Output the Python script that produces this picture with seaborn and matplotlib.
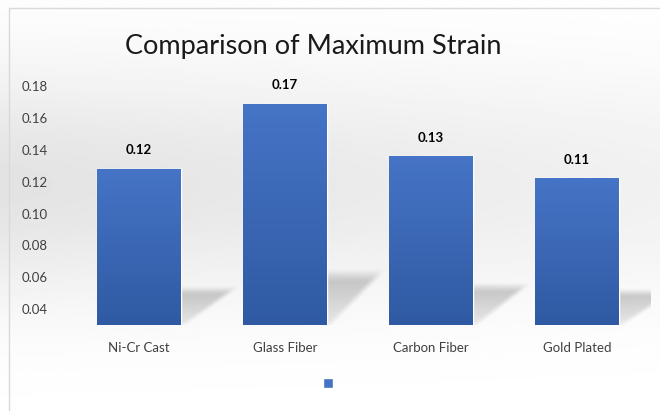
import numpy as np
import pandas as pd
import matplotlib
matplotlib.use("Agg")
import matplotlib.pyplot as plt
import seaborn as sns
from matplotlib.patches import Patch, Rectangle
from matplotlib.colors import LinearSegmentedColormap

# data
materials = ["Ni-Cr Cast", "Glass Fiber", "Carbon Fiber", "Gold Plated"]
max_strain = [0.128, 0.169, 0.136, 0.122]
value_labels = ["0.12", "0.17", "0.13", "0.11"]
y_ticks = [0.04, 0.06, 0.08, 0.10, 0.12, 0.14, 0.16, 0.18]

df = pd.DataFrame({"material": materials, "strain": max_strain})

sns.set_style("white")
plt.rcParams["font.family"] = ["Lato", "DejaVu Sans"]

fig = plt.figure(figsize=(6.6, 4.11), dpi=100)

# soft gray background like the office chart
bg = fig.add_axes([0, 0, 1, 1], zorder=-10)
yy, xx = np.mgrid[0:1:200j, 0:1:300j]
shade = 0.11 * np.exp(-((yy - 0.45) / 0.28) ** 2) * (1 - 0.5 * xx)
bg.imshow(1 - shade, cmap="gray", vmin=0, vmax=1, aspect="auto", extent=[0, 1, 0, 1])
bg.add_patch(Rectangle((0.013, -0.1), 1.2, 1.08, fill=False, edgecolor="#d9d9d9", lw=1.0))
bg.set_xlim(0, 1)
bg.set_ylim(0, 1)
bg.axis("off")

ax = fig.add_axes([0.10, 0.209, 0.885, 0.601])
ax.patch.set_alpha(0)
sns.barplot(data=df, x="material", y="strain", color="#4472C4", width=0.57, ax=ax,
            saturation=1, zorder=3)

ax.set_ylim(0.03, 0.185)
ax.set_yticks(y_ticks)
ax.set_yticklabels(["%.2f" % t for t in y_ticks])
ax.set_xlabel("")
ax.set_ylabel("")
for s in ax.spines.values():
    s.set_visible(False)
ax.tick_params(axis="y", length=0, pad=13, labelsize=9.5, labelcolor="#404040")
ax.tick_params(axis="x", length=0, pad=12, labelsize=9.5, labelcolor="#404040")


def smooth(z):
    z = np.clip(z, 0, 1)
    return z * z * (3 - 2 * z)


grad = LinearSegmentedColormap.from_list("bar", ["#2F5AA3", "#4674C6"])
g = np.linspace(0, 1, 100).reshape(-1, 1)
for p, lab in zip(ax.patches, value_labels):
    x0, w = p.get_x(), p.get_width()
    y0, h = 0.03, p.get_y() + p.get_height() - 0.03
    x1 = x0 + w
    p.set_facecolor("none")
    im = ax.imshow(g, cmap=grad, aspect="auto", origin="lower",
                   extent=[x0, x1, y0, y0 + h], zorder=3)
    im.set_clip_path(p)

    # soft perspective shadow to the right of the bar
    sh_w, sh_h = 0.8 * w, 0.3 * h
    sx, sy = np.meshgrid(np.linspace(0, 1, 120), np.linspace(0, 1, 80))
    t = sy * sh_h / (0.24 * h)
    edge = 0.1 + 0.62 * t
    xs = sx * sh_w / w
    a = smooth((edge - xs) / 0.14) * smooth((1.08 - t) / 0.3) * (0.35 + 0.65 * np.clip(t, 0, 1))
    rgba = np.zeros(sx.shape + (4,))
    rgba[..., :3] = 0.35
    rgba[..., 3] = 0.34 * a
    ax.imshow(rgba, origin="lower", aspect="auto",
              extent=[x1, x1 + sh_w, y0, y0 + sh_h], zorder=2, interpolation="bilinear")

    ax.annotate(lab, (x0 + w / 2, y0 + h), xytext=(0, 9), textcoords="offset points",
                ha="center", va="bottom", fontsize=9.5, fontweight="bold", color="black")

ax.set_xlim(-0.5, 3.5)
ax.set_ylim(0.03, 0.185)

fig.text(0.474, 0.888, "Comparison of Maximum Strain", ha="center", va="center",
         fontsize=19.5, color="#1a1a1a")

fig.legend(handles=[Patch(facecolor="#4472C4")], labels=[""], loc="center",
           bbox_to_anchor=(0.497, 0.066), frameon=False, handlelength=0.7,
           handleheight=0.7, handletextpad=0)

fig.savefig("out.png", dpi=100)
